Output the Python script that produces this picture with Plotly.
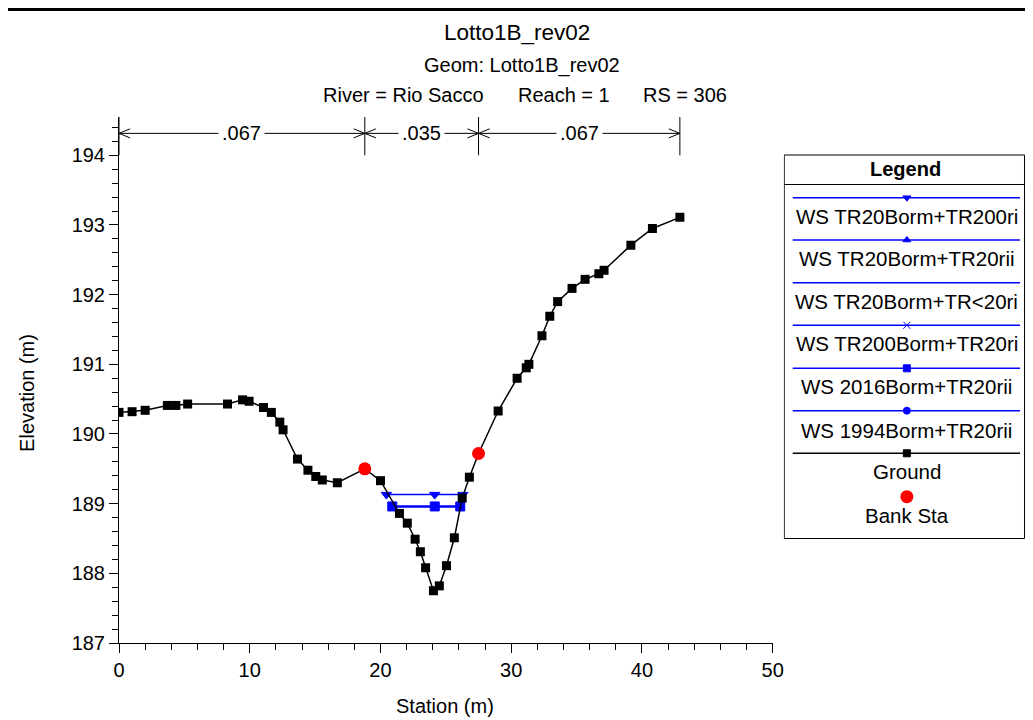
import plotly.graph_objects as go

# ---------------- data ----------------
station = [0.0, 1.0, 2.0, 3.7, 4.35, 5.25, 8.3, 9.45, 9.95, 11.05, 11.65, 12.3, 12.55,
           13.65, 14.45, 15.05, 15.55, 16.7, 18.8, 20.0, 21.45, 22.05, 22.65, 23.05,
           23.45, 24.05, 24.5, 25.05, 25.65, 26.25, 26.8, 27.5, 29.0, 30.45, 31.15,
           31.35, 32.35, 32.95, 33.55, 34.65, 35.65, 36.7, 37.1, 39.15, 40.8, 42.9]
elevation = [190.31, 190.32, 190.34, 190.41, 190.41, 190.43, 190.43, 190.49, 190.47,
             190.38, 190.31, 190.17, 190.06, 189.64, 189.48, 189.39, 189.34, 189.30,
             189.50, 189.33, 188.86, 188.72, 188.49, 188.31, 188.08, 187.75, 187.82,
             188.11, 188.51, 189.08, 189.38, 189.72, 190.33, 190.80, 190.95, 191.00,
             191.41, 191.69, 191.90, 192.09, 192.22, 192.30, 192.35, 192.71, 192.95,
             193.11]
bank_station = [18.8, 27.5]
bank_elevation = [189.50, 189.72]

ws_tr20_tr200_x = [20.45, 24.15, 26.3]
ws_tr20_tr200_y = [189.13, 189.13, 189.13]
ws_tr20_tr20_x = [20.9, 24.15, 26.1]
ws_tr20_tr20_y = [188.96, 188.96, 188.96]
ws_tr20_trlt20_x = [20.9, 24.15, 26.1]
ws_tr20_trlt20_y = [188.96, 188.96, 188.96]
ws_tr200_tr20_x = [20.9, 24.15, 26.1]
ws_tr200_tr20_y = [188.96, 188.96, 188.96]
ws_2016_x = [20.9, 24.15, 26.1]
ws_2016_y = [188.96, 188.96, 188.96]
ws_1994_x = [20.9, 24.15, 26.1]
ws_1994_y = [188.96, 188.96, 188.96]

legend_names = ["WS TR20Borm+TR200ri", "WS TR20Borm+TR20rii", "WS TR20Borm+TR<20ri",
                "WS TR200Borm+TR20ri", "WS 2016Borm+TR20rii", "WS 1994Borm+TR20rii",
                "Ground", "Bank Sta"]

n_bounds = [0.0, 18.8, 27.5, 42.9]
n_values = [".067", ".035", ".067"]

title = "Lotto1B_rev02"
subtitle = "Geom: Lotto1B_rev02"
river_info = ["River = Rio Sacco", "Reach = 1", "RS = 306"]

# ---------------- layout helpers (screen pixel coords; page body has 8px margin) ----------------
OFF = 8
W, H = 1037, 720 - OFF
PL, PR, PT, PB = 119, 1033, 117, 643   # plot-area box in screen pixels
def px(x):
    return (x - PL) / (PR - PL)
def py(y):
    return (PB - y) / (PB - PT)

FONT = "Liberation Sans, Arial, sans-serif"
BLUE = "#0000FF"
FS = 20

def txt(x, y, text, size=FS, xref="paper", yref="paper", **kw):
    if xref == "paper":
        x = px(x)
    if yref == "paper":
        y = py(y)
    d = dict(x=x, y=y, xref=xref, yref=yref, text=text, showarrow=False,
             xanchor="center", yanchor="middle",
             font=dict(size=size, color="black", family=FONT))
    d.update(kw)
    return d

fig = go.Figure()

ws_series = [
    (legend_names[1], ws_tr20_tr20_x, ws_tr20_tr20_y, "triangle-up", 7),
    (legend_names[2], ws_tr20_trlt20_x, ws_tr20_trlt20_y, None, 0),
    (legend_names[3], ws_tr200_tr20_x, ws_tr200_tr20_y, "x-thin-open", 7),
    (legend_names[5], ws_1994_x, ws_1994_y, "circle", 7),
    (legend_names[4], ws_2016_x, ws_2016_y, "square", 9),
    (legend_names[0], ws_tr20_tr200_x, ws_tr20_tr200_y, "triangle-down", 9),
]
for name, xs, ys, sym, sz in ws_series:
    if sym is None:
        fig.add_trace(go.Scatter(x=xs, y=ys, mode="lines", name=name,
                                 line=dict(color=BLUE, width=1.5)))
    else:
        fig.add_trace(go.Scatter(x=xs, y=ys, mode="lines+markers", name=name,
                                 line=dict(color=BLUE, width=1.5),
                                 marker=dict(symbol=sym, size=sz, color=BLUE,
                                             line=dict(color=BLUE, width=1))))

fig.add_trace(go.Scatter(x=station, y=elevation, mode="lines+markers", name="Ground",
                         line=dict(color="black", width=1.5),
                         marker=dict(symbol="square", size=9, color="black")))
fig.add_trace(go.Scatter(x=bank_station, y=bank_elevation, mode="markers", name="Bank Sta",
                         marker=dict(symbol="circle", size=13, color="#FF0000")))

shapes = []
annotations = []

# Manning's n bar
n_y = 194.315
for i in range(len(n_values)):
    a, b = n_bounds[i], n_bounds[i + 1]
    shapes.append(dict(type="line", xref="x", yref="y", x0=a, x1=b, y0=n_y, y1=n_y,
                       line=dict(color="black", width=1)))
    for tip, d in ((a, 1), (b, -1)):
        for dy in (0.065, -0.065):
            shapes.append(dict(type="line", xref="x", yref="y", x0=tip, y0=n_y,
                               x1=tip + d * 0.85, y1=n_y + dy,
                               line=dict(color="black", width=1)))
    annotations.append(txt((a + b) / 2, n_y, n_values[i], xref="x", yref="y",
                           bgcolor="white", borderpad=3))
for xb in n_bounds:
    shapes.append(dict(type="line", xref="x", yref="y", x0=xb, x1=xb, y0=194.0, y1=194.55,
                       line=dict(color="black", width=1)))

# top rule
shapes.append(dict(type="line", xref="paper", yref="paper", x0=px(OFF), x1=px(1040),
                   y0=py(9.5), y1=py(9.5), line=dict(color="black", width=3)))

# titles
annotations.append(txt(517, 33, title, size=22.5))
annotations.append(txt(522, 65, subtitle))
for t, cx in zip(river_info, [403, 564, 684]):
    annotations.append(txt(cx, 95, t))
# axis titles
annotations.append(txt(27, 393, "Elevation (m)", textangle=-90))
annotations.append(txt(445, 706, "Station (m)"))

# ---------------- custom legend (pixel axes x2/y2) ----------------
BOX_R = 1023.5
shapes.append(dict(type="rect", xref="x2", yref="y2", x0=783.5, x1=BOX_R, y0=155, y1=538.5,
                   line=dict(color="black", width=1), fillcolor="white", layer="below"))
shapes.append(dict(type="line", xref="x2", yref="y2", x0=783.5, x1=BOX_R, y0=184.5, y1=184.5,
                   line=dict(color="black", width=1)))
annotations.append(txt(905, 168.5, "<b>Legend</b>", xref="x2", yref="y2"))

row_line_y = [197.7, 240, 282.7, 325.3, 368.3, 410.7, 453.3]
row_text_y = [216, 258.3, 301.7, 343.3, 386.7, 430, 471.7]
row_syms = ["triangle-down", "triangle-up", None, "x-thin-open", "square", "circle", "square"]
row_cols = [BLUE] * 6 + ["black"]
for i in range(7):
    yl = row_line_y[i]
    sym = row_syms[i]
    fig.add_trace(go.Scatter(x=[792, 1019], y=[yl, yl], xaxis="x2", yaxis="y2", mode="lines",
                             line=dict(color=row_cols[i], width=1.5), showlegend=False,
                             hoverinfo="skip"))
    if sym:
        fig.add_trace(go.Scatter(x=[906], y=[yl], xaxis="x2", yaxis="y2", mode="markers",
                                 marker=dict(symbol=sym, size=7, color=row_cols[i],
                                             line=dict(color=row_cols[i], width=1)),
                                 showlegend=False, hoverinfo="skip"))
    annotations.append(txt(906, row_text_y[i], legend_names[i], size=20.5,
                           xref="x2", yref="y2"))
fig.add_trace(go.Scatter(x=[906], y=[496.7], xaxis="x2", yaxis="y2", mode="markers",
                         marker=dict(symbol="circle", size=13, color="#FF0000"),
                         showlegend=False, hoverinfo="skip"))
annotations.append(txt(906, 515, legend_names[7], size=20.5, xref="x2", yref="y2"))

axis_common = dict(showgrid=False, zeroline=False, showline=True, linecolor="black",
                   linewidth=1, ticks="outside", ticklen=9, tickcolor="black", tickwidth=1,
                   tickfont=dict(size=FS, color="black", family=FONT))

fig.update_layout(
    width=W, height=H,
    margin=dict(l=PL - OFF, r=0, t=PT - OFF, b=720 - PB, pad=0),
    plot_bgcolor="white", paper_bgcolor="white",
    showlegend=False,
    font=dict(family=FONT, color="black"),
    xaxis=dict(domain=[0, px(772)], range=[0, 50], tick0=0, dtick=10,
               minor=dict(dtick=2, ticks="outside", ticklen=6, tickcolor="black"),
               **axis_common),
    yaxis=dict(range=[187, 194.55], tick0=187, dtick=1,
               minor=dict(dtick=0.2, ticks="outside", ticklen=6, tickcolor="black"),
               **axis_common),
    xaxis2=dict(domain=[px(783), 1.0], range=[783, 1033], visible=False, anchor="y2"),
    yaxis2=dict(domain=[0, 1], range=[643, 117], visible=False, anchor="x2"),
    shapes=shapes,
    annotations=annotations,
)

fig.write_html("out.html")
